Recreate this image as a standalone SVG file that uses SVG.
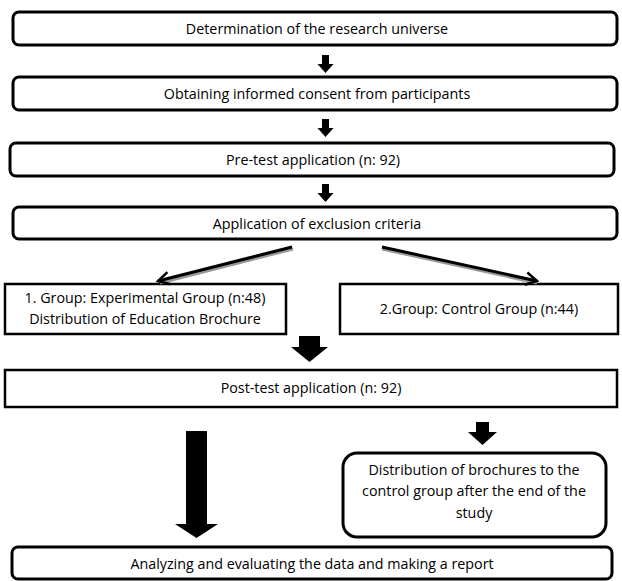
<svg xmlns="http://www.w3.org/2000/svg" width="622" height="581" viewBox="0 0 622 581">
<defs>
<style>
.rb{fill:#fff;stroke:#000;stroke-width:3}
.sq{fill:#fff;stroke:#000;stroke-width:2.5}
text{font-family:"Open Sans","Liberation Sans",sans-serif;font-size:14.3px;fill:#000;text-anchor:middle}
.blk{fill:#000}
.diag{stroke:#000;stroke-width:3;fill:none}
.shadow{stroke:#999;stroke-width:3;fill:none}
</style>
<marker id="chev" viewBox="0 0 12 12" refX="10" refY="6" markerWidth="5" markerHeight="5" orient="auto" markerUnits="strokeWidth">
<path d="M1,1 L10,6 L1,11" fill="none" stroke="#000" stroke-width="2"/>
</marker>
</defs>
<rect width="622" height="581" fill="#fff"/>
<g id="n1"><rect class="rb" x="13" y="12" width="604" height="33" rx="6"/><text x="317" y="34">Determination of the research universe</text></g>
<g id="n2"><rect class="rb" x="13" y="77" width="604" height="33" rx="6"/><text x="317" y="99">Obtaining informed consent from participants</text></g>
<g id="n3"><rect class="rb" x="10" y="143" width="604" height="33" rx="6"/><text x="313" y="165">Pre-test application (n: 92)</text></g>
<g id="n4"><rect class="rb" x="13" y="207" width="604" height="32" rx="6"/><text x="317" y="229">Application of exclusion criteria</text></g>
<g id="n5"><rect class="sq" x="5" y="284" width="281" height="50"/><text x="145" y="303">1. Group: Experimental Group (n:48)</text><text x="145" y="324">Distribution of Education Brochure</text></g>
<g id="n6"><rect class="sq" x="340" y="284" width="278" height="50"/><text x="479" y="314">2.Group: Control Group (n:44)</text></g>
<g id="n7"><rect class="sq" x="5" y="370" width="612" height="37"/><text x="311" y="393">Post-test application (n: 92)</text></g>
<g id="n8"><rect class="rb" x="343" y="453" width="263" height="84" rx="14"/><text x="474" y="475">Distribution of brochures to the</text><text x="474" y="496">control group after the end of the</text><text x="474" y="518">study</text></g>
<g id="n9"><rect class="rb" x="12" y="547" width="600" height="32" rx="6"/><text x="312" y="569">Analyzing and evaluating the data and making a report</text></g>
<g id="connectors">
<path class="blk" d="M322,55 h7 v9 h4.5 l-8,9 l-8,-9 h4.5 z"/>
<path class="blk" d="M322,119 h7 v9 h4.5 l-8,9 l-8,-9 h4.5 z"/>
<path class="blk" d="M322,184 h7 v9 h4.5 l-8,9 l-8,-9 h4.5 z"/>
<line class="shadow" x1="293" y1="249" x2="160" y2="283"/>
<line class="diag" x1="292" y1="247" x2="158" y2="281" marker-end="url(#chev)"/>
<line class="shadow" x1="382" y1="249" x2="537" y2="283"/>
<line class="diag" x1="382" y1="247" x2="537" y2="281" marker-end="url(#chev)"/>
<path class="blk" d="M299,336 h21 v11 h8 l-18.5,15 l-18.5,-15 h8 z"/>
<path class="blk" d="M186,431 h21 v93 h11 l-21.5,14 l-21.5,-14 h11 z"/>
<path class="blk" d="M476,422 h13 v10 h8 l-14.5,13 l-14.5,-13 h8 z"/>
</g>
</svg>
